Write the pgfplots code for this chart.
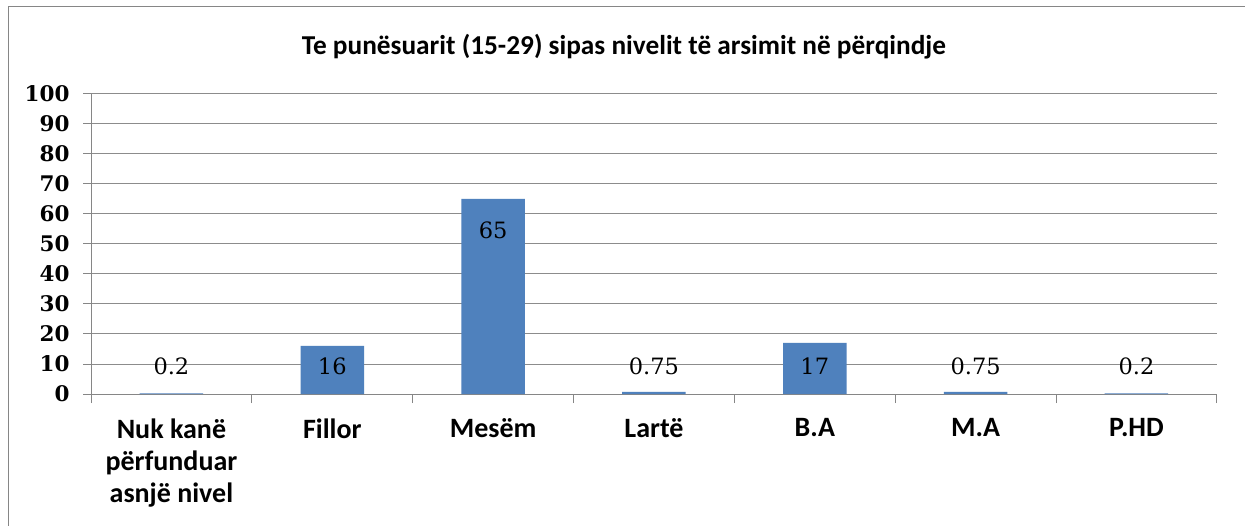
\documentclass[border=0pt]{standalone}
\usepackage{pgfplots}
\pgfplotsset{compat=1.18}
\usepackage{pgfplotstable}
\usepackage{fontspec}
\setmainfont{Carlito}
\newfontfamily\numfont{DejaVu Serif}

\definecolor{barblue}{HTML}{4F81BD}
\definecolor{axisgray}{HTML}{868686}
\definecolor{gridgray}{HTML}{8C8C8C}

% x, bar value, label height, label text
\pgfplotstableread{
x y ly lab
0 0.2 9.2 0.2
1 16 9.2 16
2 65 54.7 65
3 0.75 9.2 0.75
4 17 9.2 17
5 0.75 9.2 0.75
6 0.2 9.2 0.2
}\data

\begin{document}
\begin{tikzpicture}
\useasboundingbox (0pt,0pt) rectangle (1245pt,525pt);
\fill[white] (0pt,0pt) rectangle (1245pt,525pt);
\draw[axisgray, line width=1pt] (8pt,-10pt) -- (8pt,518pt) -- (1260pt,518pt);
\begin{axis}[
    at={(91pt,131pt)}, anchor=south west,
    scale only axis,
    width=1126pt, height=300pt,
    xmin=-0.5, xmax=6.5,
    ymin=0, ymax=100,
    ytick={0,10,...,100},
    xtick={0,...,6},
    xticklabels={{Nuk kanë\\përfunduar\\asnjë nivel},Fillor,Mesëm,Lartë,B.A,M.A,P.HD},
    minor xtick={-0.5,0.5,...,6.5},
    axis lines*=left,
    axis line style={axisgray, line width=1pt, -},
    ymajorgrids,
    grid style={gridgray, line width=1pt},
    tick align=outside,
    major tick length=8pt,
    minor tick length=9pt,
    major x tick style={draw=none},
    minor x tick style={axisgray, line width=1pt},
    ytick style={axisgray, line width=1pt},
    /pgf/number format/assume math mode=true,
    yticklabel style={font=\numfont\bfseries\fontsize{21.5}{25}\selectfont, xshift=-10pt},
    xticklabel style={font=\bfseries\fontsize{28}{32}\selectfont, align=center, anchor=north, yshift=-13pt},
    title={Te punësuarit (15-29) sipas nivelit të arsimit në përqindje},
    title style={font=\bfseries\fontsize{27.3}{30}\selectfont, at={(rel axis cs:0.5,1)}, anchor=center, xshift=-30pt, yshift=41pt},
    clip=false,
]
\addplot[ybar, bar width=63.5pt, fill=barblue, draw=none] table[x=x, y=y] {\data};
\addplot[draw=none, mark=none, nodes near coords, point meta=explicit symbolic,
    every node near coord/.append style={anchor=center, black, font=\numfont\fontsize{22.5}{26}\selectfont}]
    table[x=x, y=ly, meta=lab] {\data};
\end{axis}
\end{tikzpicture}
\end{document}
